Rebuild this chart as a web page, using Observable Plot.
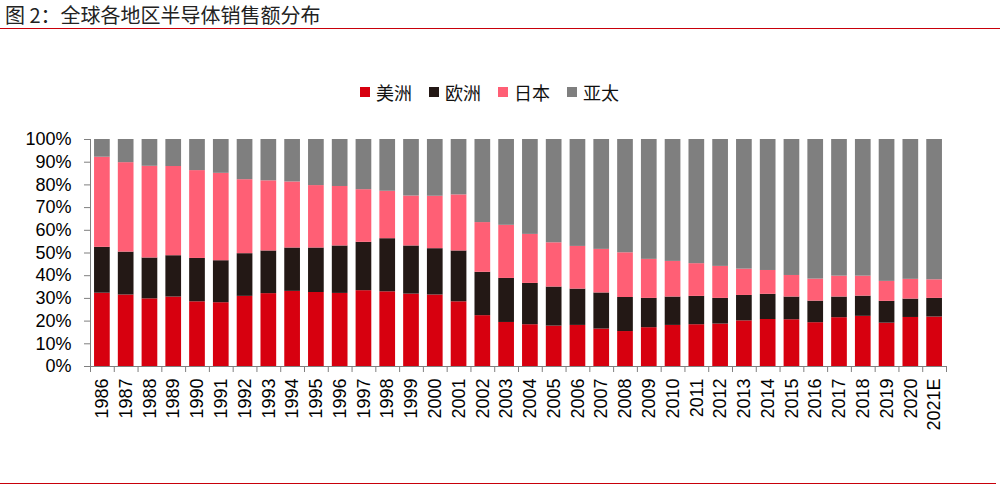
<!DOCTYPE html>
<html>
<head>
<meta charset="utf-8">
<script src="https://cdn.jsdelivr.net/npm/d3@7"></script>
<script src="https://cdn.jsdelivr.net/npm/@observablehq/plot@0.6"></script>
<style>
  html, body { margin: 0; padding: 0; background: #fff; }
  #wrap { position: relative; width: 1000px; height: 490px; overflow: hidden; font-family: "Liberation Sans", Arial, "Noto Sans CJK SC", sans-serif; }
  #title { position: absolute; left: 5px; top: 0px; font-family: "Noto Sans CJK SC", sans-serif; font-size: 20px; line-height: normal; color: #222; white-space: nowrap; }
  #topline { position: absolute; left: 0; top: 28px; width: 1000px; height: 0; border-top: 1.5px solid #c8000a; }
  #bottomline { position: absolute; left: 0; top: 483px; width: 996px; height: 0; border-top: 1.5px solid #c8000a; }
  #legend { position: absolute; left: 360px; top: 80px; display: flex; align-items: center; font-family: "Noto Sans CJK SC", sans-serif; font-size: 18px; line-height: 24px; color: #111; }
  .item { display: flex; align-items: center; margin-right: 17px; }
  .sw { width: 10px; height: 10px; margin-right: 6px; }
  #chart { position: absolute; left: 0; top: 120px; }
</style>
</head>
<body>
<div id="wrap">
  <div id="title">图 2：全球各地区半导体销售额分布</div>
  <div id="topline"></div>
  <div id="legend"></div>
  <div id="chart"></div>
  <div id="bottomline"></div>
</div>
<script>
const years = ["1986","1987","1988","1989","1990","1991","1992","1993","1994","1995","1996","1997","1998","1999","2000","2001","2002","2003","2004","2005","2006","2007","2008","2009","2010","2011","2012","2013","2014","2015","2016","2017","2018","2019","2020","2021E"];
const regions = ["美洲", "欧洲", "日本", "亚太"];
const colors = ["#d7000f", "#231815", "#ff5f75", "#7f7f7f"];

const americas = [32.3,31.5,29.8,30.6,28.5,28.1,30.9,32.1,33.1,32.6,32.2,33.4,32.9,31.9,31.5,28.5,22.4,19.4,18.4,17.8,18.1,16.5,15.4,17.1,18.1,18.4,18.7,20.1,20.7,20.6,19.3,21.5,22.1,19.1,21.6,21.8];
const europe   = [20.2,18.9,18.0,18.2,19.1,18.5,18.8,18.8,19.1,19.6,20.9,21.3,23.4,21.2,20.4,22.4,19.1,19.4,18.2,17.2,16.0,15.9,15.0,12.9,12.5,12.5,11.3,11.2,11.1,10.0,9.5,9.1,8.9,9.6,8.1,8.2];
const japan    = [39.7,39.4,40.4,39.3,38.7,38.5,32.6,30.9,29.1,27.5,26.2,23.2,20.9,22.0,23.1,24.7,21.9,23.4,21.6,19.5,18.8,19.2,19.7,17.2,15.7,14.4,14.1,11.6,10.5,9.5,9.7,9.2,8.8,8.8,8.7,8.2];
const asiaPac  = [7.8,10.2,11.8,11.9,13.7,14.9,17.7,18.2,18.7,20.3,20.7,22.1,22.8,24.9,25.0,24.4,36.6,37.8,41.8,45.5,47.1,48.4,49.9,52.8,53.7,54.7,55.9,57.1,57.7,59.9,61.5,60.2,60.2,62.5,61.6,61.8];
const yTicks = [0,10,20,30,40,50,60,70,80,90,100];

const series = [americas, europe, japan, asiaPac];
const rows = [];
years.forEach((yr, i) => {
  regions.forEach((r, k) => rows.push({year: yr, region: r, value: series[k][i]}));
});

// legend
const legend = document.getElementById("legend");
regions.forEach((r, k) => {
  const it = document.createElement("div");
  it.className = "item";
  const sw = document.createElement("div");
  sw.className = "sw";
  sw.style.background = colors[k];
  const tx = document.createElement("span");
  tx.textContent = r;
  it.appendChild(sw); it.appendChild(tx);
  legend.appendChild(it);
});

const W = 1000, H = 370, ML = 90, MR = 54, MT = 19, MB = 124;
const step = (W - ML - MR) / years.length;
const axisColor = "#7f7f7f";

const chart = Plot.plot({
  width: W, height: H,
  marginLeft: ML, marginRight: MR, marginTop: MT, marginBottom: MB,
  style: {fontFamily: "'Liberation Sans', Arial, sans-serif", fontSize: "18px", color: "#000", background: "#fff"},
  x: {domain: years, paddingInner: 0.34, paddingOuter: 0.17, round: false, label: null},
  y: {domain: [0, 100], label: null},
  color: {domain: regions, range: colors},
  marks: [
    Plot.barY(rows, Plot.stackY({x: "year", y: "value", fill: "region", order: regions})),
    Plot.ruleY([0], {stroke: axisColor}),
    Plot.ruleX([years[0]], {x: d => d, dx: -step / 2, y1: 0, y2: 100, stroke: axisColor}),
    Plot.ruleX(years, {x: d => d, dx: -step / 2, y1: 0, y2: -2.65, stroke: axisColor}),
    Plot.ruleX([years[years.length - 1]], {x: d => d, dx: step / 2, y1: 0, y2: -2.65, stroke: axisColor}),
    Plot.axisY({ticks: yTicks, tickFormat: d => d + "%", tickSize: 6, tickPadding: 13, stroke: axisColor, fill: "#000", fontSize: 18, label: null}),
    Plot.axisX({tickRotate: -90, tickSize: 0, tickPadding: 12, fill: "#000", fontSize: 18, label: null})
  ]
});
document.getElementById("chart").appendChild(chart);
</script>
</body>
</html>
